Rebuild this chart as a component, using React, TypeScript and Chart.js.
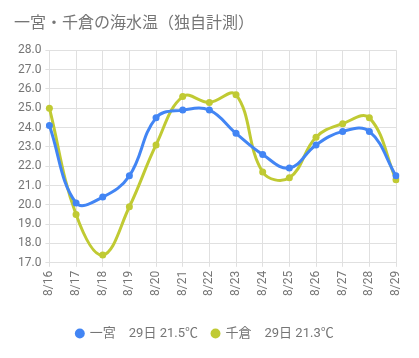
import React, { useEffect, useRef } from "react";
import { Chart, registerables } from "chart.js";

Chart.register(...registerables);

const labels = ["8/16", "8/17", "8/18", "8/19", "8/20", "8/21", "8/22", "8/23", "8/24", "8/25", "8/26", "8/27", "8/28", "8/29"];
const ichinomiya = [24.1, 20.1, 20.4, 21.5, 24.5, 24.9, 24.9, 23.7, 22.6, 21.9, 23.1, 23.8, 23.8, 21.5];
const chikura = [25.0, 19.5, 17.4, 19.9, 23.1, 25.6, 25.3, 25.7, 21.7, 21.4, 23.5, 24.2, 24.5, 21.3];
const seriesNames = ["一宮　29日 21.5℃", "千倉　29日 21.3℃"];
const titleText = "一宮・千倉の海水温（独自計測）";
const yMin = 17;
const yMax = 28;

const FONT = "Roboto, 'Noto Sans CJK JP', sans-serif";

export default function App() {
  const ref = useRef<HTMLCanvasElement | null>(null);
  useEffect(() => {
    if (!ref.current) return;
    const chart = new Chart(ref.current, {
      type: "line",
      data: {
        labels,
        datasets: [
          {
            label: seriesNames[0],
            data: ichinomiya,
            borderColor: "#4285f4",
            backgroundColor: "#4285f4",
            borderWidth: 3,
            pointRadius: 3.5,
            pointBorderWidth: 0,
            pointHoverRadius: 3.5,
            tension: 0.4,
          },
          {
            label: seriesNames[1],
            data: chikura,
            borderColor: "#c0ca33",
            backgroundColor: "#c0ca33",
            borderWidth: 3,
            pointRadius: 3.5,
            pointBorderWidth: 0,
            pointHoverRadius: 3.5,
            tension: 0.4,
          },
        ],
      },
      options: {
        animation: false,
        responsive: false,
        maintainAspectRatio: false,
        layout: { padding: { left: 14, right: 23, top: 0, bottom: 8 } },
        plugins: {
          title: {
            display: true,
            text: titleText,
            align: "start",
            color: "#757575",
            font: { family: "'Noto Sans CJK JP', sans-serif", size: 16, weight: "normal" },
            padding: { top: 12, bottom: 19 },
          },
          legend: {
            position: "bottom",
            labels: {
              usePointStyle: true,
              pointStyle: "circle",
              boxWidth: 7,
              boxHeight: 7,
              color: "#757575",
              font: { family: FONT, size: 13 },
              padding: 14,
            },
          },
          tooltip: { enabled: false },
        },
        scales: {
          x: {
            grid: { color: "#e0e0e0", tickLength: 4 },
            border: { color: "#e0e0e0" },
            ticks: {
              color: "#757575",
              font: { family: FONT, size: 12 },
              maxRotation: 90,
              minRotation: 90,
              padding: 4,
            },
            afterFit: (scale: any) => {
              scale.height += 13;
            },
          },
          y: {
            min: yMin,
            max: yMax,
            grid: { color: "#e0e0e0", tickLength: 4 },
            border: { color: "#e0e0e0" },
            ticks: {
              stepSize: 1,
              color: "#757575",
              font: { family: FONT, size: 12 },
              padding: 4,
              callback: (v: any) => Number(v).toFixed(1),
            },
          },
        },
      },
    });
    return () => chart.destroy();
  }, []);
  return (
    <div style={{ position: "absolute", left: 0, top: 0, width: 419, height: 358 }}>
      <canvas ref={ref} width={419} height={358} />
    </div>
  );
}
